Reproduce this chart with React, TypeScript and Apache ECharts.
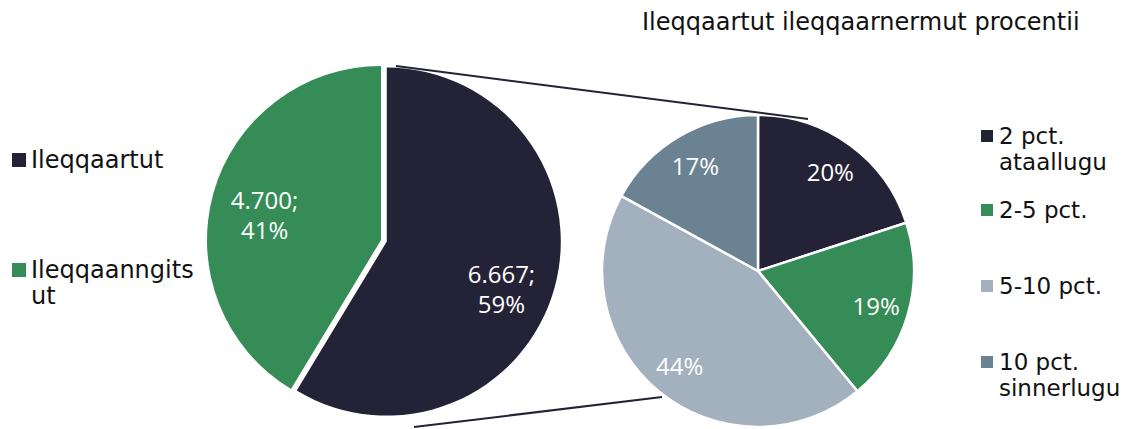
import React, { useEffect, useRef } from "react";
import * as echarts from "echarts";

const titleText = "Ileqqaartut ileqqaarnermut procentii";

const mainCategories = ["Ileqqaartut", "Ileqqaanngitsut"];
const mainValues = [6667, 4700];
const mainLegendLabels = ["Ileqqaartut", "Ileqqaanngits\nut"];

const rateCategories = ["2 pct. ataallugu", "2-5 pct.", "5-10 pct.", "10 pct. sinnerlugu"];
const rateValues = [20, 19, 44, 17];
const rateLegendLabels = ["2 pct.\nataallugu", "2-5 pct.", "5-10 pct.", "10 pct.\nsinnerlugu"];

const mainColors = ["#242236", "#358c57"];
const rateColors = ["#242236", "#358c57", "#a3b0bd", "#6b8292"];

const fmtThousands = (v: number) => String(v).replace(/\B(?=(\d{3})+(?!\d))/g, ".");

export default function App() {
  const ref = useRef<HTMLDivElement>(null);
  useEffect(() => {
    if (!ref.current) return;
    const chart = echarts.init(ref.current, undefined, { renderer: "svg" });
    const legendFont = "DejaVu Sans";
    const labelFont = "'Open Sans', sans-serif";
    const textColor = "#111111";
    const mainLabelShift = [
      [0, 15],
      [4, 8],
    ];

    const mainData = mainCategories.map((n, i) => ({
      name: n,
      value: mainValues[i],
      selected: i === 0,
      itemStyle: { color: mainColors[i] },
    }));
    const mainOverlay = mainCategories.map((n, i) => ({
      name: n,
      value: mainValues[i],
      itemStyle: { color: "rgba(0,0,0,0)" },
      label: { offset: mainLabelShift[i] },
    }));
    const rateData = rateCategories.map((n, i) => ({
      name: n,
      value: rateValues[i],
      itemStyle: { color: rateColors[i] },
    }));
    const rateOverlay = rateCategories.map((n, i) => ({
      name: n,
      value: rateValues[i],
      itemStyle: { color: "rgba(0,0,0,0)" },
    }));

    const mkLegend = (name: string, label: string, left: number, iconY: number, fontSize: number) => {
      const twoLine = label.includes("\n");
      return {
        orient: "vertical",
        icon: "rect",
        itemWidth: 14,
        itemHeight: 14,
        padding: 0,
        selectedMode: false,
        data: [name],
        left,
        top: twoLine ? iconY - 39 : iconY - 13,
        formatter: () => (twoLine ? "\n" + label : label),
        textStyle: { fontFamily: legendFont, fontSize, lineHeight: 26, color: textColor },
      };
    };
    const leftIconY = [160, 270];
    const rightIconY = [136, 210, 286, 362];

    const legends = [
      ...mainCategories.map((n, i) => mkLegend(n, mainLegendLabels[i], 12, leftIconY[i], 24)),
      ...rateCategories.map((n, i) => mkLegend(n, rateLegendLabels[i], 979, rightIconY[i], 23)),
    ];

    chart.setOption({
      animation: false,
      title: {
        text: titleText,
        left: 642,
        top: 9,
        padding: 0,
        textStyle: { fontFamily: legendFont, fontSize: 24, fontWeight: "normal", color: textColor, lineHeight: 26 },
      },
      legend: legends,
      series: [
        {
          type: "pie",
          center: [381, 240],
          radius: [0, 174],
          startAngle: 90,
          clockwise: true,
          selectedMode: "single",
          selectedOffset: 6,
          data: mainData,
          label: { show: false },
          labelLine: { show: false },
          emphasis: { disabled: true },
          silent: true,
        },
        {
          type: "pie",
          center: [381, 240],
          radius: [70, 174],
          startAngle: 90,
          clockwise: true,
          data: mainOverlay,
          label: {
            show: true,
            position: "inside",
            formatter: (p: any) => `${fmtThousands(p.value)};\n${Math.round(p.percent)}%`,
            color: "#ffffff",
            fontFamily: labelFont,
            fontSize: 24,
            lineHeight: 30,
          },
          labelLine: { show: false },
          emphasis: { disabled: true },
          silent: true,
        },
        {
          type: "pie",
          center: [758, 271],
          radius: [0, 156],
          startAngle: 90,
          clockwise: true,
          data: rateData,
          itemStyle: { borderColor: "#ffffff", borderWidth: 2.5 },
          label: { show: false },
          labelLine: { show: false },
          emphasis: { disabled: true },
          silent: true,
        },
        {
          type: "pie",
          center: [758, 271],
          radius: [84, 156],
          startAngle: 90,
          clockwise: true,
          data: rateOverlay,
          label: {
            show: true,
            position: "inside",
            formatter: (p: any) => `${p.value}%`,
            color: "#ffffff",
            fontFamily: labelFont,
            fontSize: 24,
          },
          labelLine: { show: false },
          emphasis: { disabled: true },
          silent: true,
        },
      ],
      graphic: [
        {
          type: "line",
          z: 100,
          shape: { x1: 396, y1: 66, x2: 808, y2: 119 },
          style: { stroke: "#242236", lineWidth: 2 },
        },
        {
          type: "line",
          z: 100,
          shape: { x1: 414, y1: 427, x2: 662, y2: 397 },
          style: { stroke: "#242236", lineWidth: 2 },
        },
      ],
    });
    return () => chart.dispose();
  }, []);
  return (
    <div
      ref={ref}
      style={{ position: "absolute", left: 0, top: 0, width: 1127, height: 429, background: "#ffffff" }}
    />
  );
}
